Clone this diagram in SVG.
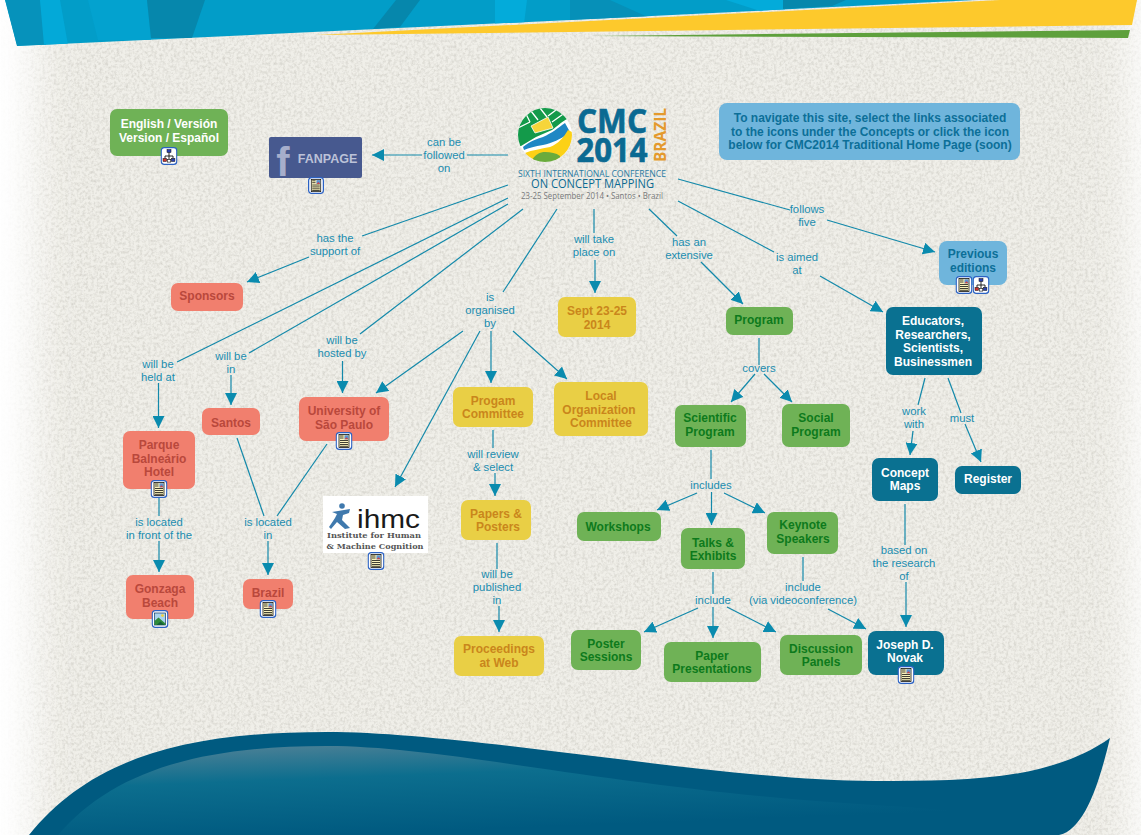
<svg xmlns="http://www.w3.org/2000/svg" xmlns:xlink="http://www.w3.org/1999/xlink" width="1141" height="835" viewBox="0 0 1141 835">
<style>
text{font-family:"Liberation Sans",Arial,sans-serif;text-anchor:middle}
.n{font-size:12px;font-weight:bold}
.r rect{fill:#f17f6e}.r text{fill:#b9483c}
.y rect{fill:#e9cf45}.y text{fill:#c9861c}
.g rect{fill:#6fb256}.g text{fill:#0d7a1c}
.b rect{fill:#0a7191}.b text{fill:#fff}
.s rect{fill:#6fb5dc}.s text{fill:#0c6f98}
.l{font-size:11.3px;fill:#1a8db0}
#connectors line{stroke:#1389aa;stroke-width:1.2}
.a{marker-end:url(#arrow)}
.o{font-family:"Open Sans","Liberation Sans",sans-serif}
</style>
<defs>
<marker id="arrow" markerUnits="userSpaceOnUse" viewBox="0 0 10 10" markerWidth="12" markerHeight="12" refX="10" refY="5" orient="auto"><path d="M0 0L10 5L0 10z" fill="#0a8bae"/></marker>
<filter id="paper" x="-5%" y="-5%" width="110%" height="110%" color-interpolation-filters="sRGB">
<feGaussianBlur in="SourceGraphic" stdDeviation="20" result="b"/>
<feTurbulence type="fractalNoise" baseFrequency="0.35" numOctaves="4" seed="4" result="t"/>
<feColorMatrix in="t" type="matrix" values="0 0 0 0 0.6 0 0 0 0 0.59 0 0 0 0 0.55 0.6 0 0 0 -0.24" result="c"/>
<feComposite in="c" in2="b" operator="in" result="s"/>
<feMerge><feMergeNode in="b"/><feMergeNode in="s"/></feMerge>
</filter>
<linearGradient id="wave" x1="0.12" y1="0" x2="0.5" y2="0.9"><stop offset="0" stop-color="#4f8196"/><stop offset="0.4" stop-color="#0c6e8e"/><stop offset="1" stop-color="#005a80"/></linearGradient>
<clipPath id="globe"><circle cx="545" cy="135" r="27"/></clipPath>
<clipPath id="ban"><path d="M5 0L17 46L570 20L975 0z"/></clipPath>
<symbol id="doc" viewBox="0 0 17 18"><rect x="0.7" y="0.7" width="15.6" height="16.6" rx="3" fill="#fff" stroke="#2b62c4" stroke-width="1.3"/><rect x="3.5" y="2.5" width="10" height="13" fill="#fbf3bd" stroke="#111" stroke-width="0.8"/><rect x="9" y="3.3" width="4" height="4" fill="#5b8fd0"/><path d="M9 7.3l2-2 2 2z" fill="#c44"/><path d="M4.5 4h3.5M4.5 6h3.5M4.5 8.500h8M4.5 10.500h8M4.5 12.500h8M4.5 14.300h8" stroke="#111" stroke-width="0.8"/></symbol>
<symbol id="map" viewBox="0 0 17 18"><rect x="0.7" y="0.7" width="15.6" height="16.6" rx="3" fill="#fff" stroke="#2b62c4" stroke-width="1.3"/><path d="M8.500 5V9M4.500 12V9H12.500V12M8.500 9V13" stroke="#111" stroke-width="0.9" fill="none"/><rect x="6.500" y="2.500" width="4" height="3" fill="#2a3fb0" stroke="#111" stroke-width="0.5"/><rect x="2.500" y="11.500" width="3.600" height="3" fill="#c33" stroke="#111" stroke-width="0.5"/><rect x="10.800" y="11.500" width="3.600" height="3" fill="#2a3fb0" stroke="#111" stroke-width="0.5"/><rect x="6.800" y="12.500" width="3.400" height="2.600" fill="#fff" stroke="#111" stroke-width="0.6"/></symbol>
<symbol id="pic" viewBox="0 0 17 18"><rect x="0.7" y="0.7" width="15.6" height="16.6" rx="3" fill="#fff" stroke="#2b62c4" stroke-width="1.3"/><rect x="3" y="3" width="11" height="12" fill="#a9d3ef" stroke="#14375e" stroke-width="0.7"/><circle cx="11" cy="5.600" r="1.400" fill="#f3d23c"/><path d="M3 15L3 11L7 7.500L11 11L14 13.500L14 15z" fill="#2f8a3a"/><path d="M5 15L9 11.500L13 15z" fill="#14603a"/></symbol>
</defs>

<rect width="1141" height="835" fill="#fff"/>
<rect x="34" y="-60" width="1098" height="955" fill="#f0efe9" filter="url(#paper)"/>

<g id="banner">
<path d="M5 0L17 46L570 20L975 0z" fill="#029dc8"/>
<g clip-path="url(#ban)">
<path d="M5 0H40L46 45L17 46z" fill="#0692bb"/>
<path d="M40 0H60L68 45L44 45z" fill="#03a9d8"/>
<path d="M88 0H147L151 40H98z" fill="#03a2cf"/>
<path d="M147 0H205L192 38L151 38z" fill="#0687ac"/>
<path d="M396 0H420L400 27L373 29z" fill="#0687ac"/>
<path d="M495 0H527L524 24H495z" fill="#03abda"/>
<path d="M570 0H610L650 18L570 20z" fill="#0690b8"/>
<path d="M726 0H785V11L760 11z" fill="#03abda"/>
<path d="M783 0H846L832 6L783 9z" fill="#0687ac"/>
</g>
<path d="M316 35L570 22L1000 0H1137L1132 25L570 32z" fill="#fdc92c"/>
<path d="M592 36L1130 30L1128 38z" fill="#5ea03c"/>
</g>

<g id="wave-shape">
<path d="M29 835C90 760 180 732 327 732C470 732 720 781 873 781C970 781 1050 780 1110 738C1100 780 1085 830 1059 835z" fill="#005a80"/>
<path d="M58 835C110 775 190 746 327 746C450 746 620 790 873 805C960 810 1020 815 1059 835z" fill="url(#wave)"/>
</g>

<g id="connectors">
<line x1="508" y1="155" x2="467" y2="155"/><line class="a" x1="422" y1="155" x2="372" y2="155"/>
<line x1="508" y1="185" x2="362" y2="236"/><line class="a" x1="309" y1="257" x2="247" y2="282"/>
<line x1="508" y1="198" x2="177" y2="362"/><line class="a" x1="158.500" y1="383" x2="158.500" y2="428"/>
<line x1="508" y1="204" x2="249" y2="353"/><line class="a" x1="231" y1="375" x2="231" y2="405"/>
<line x1="523" y1="209" x2="360" y2="334"/><line class="a" x1="342.500" y1="361" x2="342.500" y2="393"/>
<line x1="557" y1="209" x2="503" y2="292"/>
<line class="a" x1="463" y1="331" x2="376" y2="393"/>
<line class="a" x1="480" y1="331" x2="395" y2="487"/>
<line class="a" x1="491" y1="331" x2="491" y2="383"/>
<line class="a" x1="513" y1="331" x2="567" y2="379"/>
<line x1="594" y1="209" x2="594" y2="233"/><line class="a" x1="595" y1="260" x2="595" y2="293"/>
<line x1="649" y1="209" x2="677" y2="236"/><line class="a" x1="701" y1="262" x2="743" y2="304"/>
<line x1="678" y1="201" x2="774" y2="252"/><line class="a" x1="820" y1="276" x2="883" y2="312"/>
<line x1="678" y1="179" x2="790" y2="210"/><line class="a" x1="827" y1="220" x2="935" y2="252"/>
<line x1="237" y1="438" x2="264" y2="516"/><line x1="327" y1="444" x2="277" y2="516"/><line class="a" x1="268" y1="541" x2="268" y2="575"/>
<line x1="159" y1="497" x2="159" y2="516"/><line class="a" x1="159" y1="541" x2="159" y2="572"/>
<line x1="493" y1="430" x2="493" y2="448"/><line class="a" x1="495" y1="473" x2="495" y2="496"/>
<line x1="497" y1="543" x2="497" y2="569"/><line class="a" x1="499" y1="606" x2="499" y2="632"/>
<line x1="759" y1="338" x2="759" y2="365"/><line class="a" x1="755" y1="374" x2="731" y2="402"/><line class="a" x1="764" y1="374" x2="792" y2="402"/>
<line x1="711" y1="450" x2="711" y2="479"/><line class="a" x1="697" y1="493" x2="657" y2="510"/><line class="a" x1="711.500" y1="492" x2="711.500" y2="525"/><line class="a" x1="724" y1="493" x2="765" y2="513"/>
<line x1="713" y1="572" x2="713" y2="594"/><line class="a" x1="698" y1="608" x2="644" y2="632"/><line class="a" x1="713" y1="607" x2="713" y2="638"/><line class="a" x1="727" y1="607" x2="776" y2="632"/>
<line x1="803" y1="557" x2="803" y2="581"/><line class="a" x1="828" y1="609" x2="866" y2="629"/>
<line x1="925" y1="378" x2="918" y2="405"/><line class="a" x1="913" y1="431" x2="910" y2="455"/>
<line x1="948" y1="378" x2="961" y2="413"/><line class="a" x1="965" y1="424" x2="981" y2="462"/>
<line x1="905" y1="504" x2="905" y2="545"/><line class="a" x1="906" y1="582" x2="906" y2="627"/>
</g>

<g id="link-labels" class="l">
<text x="444" y="146">can be</text><text x="444" y="159">followed</text><text x="444" y="172">on</text>
<text x="335" y="242">has the</text><text x="335" y="255">support of</text>
<text x="158" y="368">will be</text><text x="158" y="381">held at</text>
<text x="231" y="360">will be</text><text x="231" y="373">in</text>
<text x="342" y="344">will be</text><text x="342" y="357">hosted by</text>
<text x="490" y="301">is</text><text x="490" y="314">organised</text><text x="490" y="327">by</text>
<text x="594" y="243">will take</text><text x="594" y="256">place on</text>
<text x="689" y="246">has an</text><text x="689" y="259">extensive</text>
<text x="797" y="261">is aimed</text><text x="797" y="274">at</text>
<text x="807" y="213">follows</text><text x="807" y="226">five</text>
<text x="159" y="526">is located</text><text x="159" y="539">in front of the</text>
<text x="268" y="526">is located</text><text x="268" y="539">in</text>
<text x="493" y="458">will review</text><text x="493" y="471">&amp; select</text>
<text x="497" y="578">will be</text><text x="497" y="591">published</text><text x="497" y="604">in</text>
<text x="759" y="372">covers</text>
<text x="711" y="489">includes</text>
<text x="713" y="604">include</text>
<text x="803" y="591">include</text><text x="803" y="604">(via videoconference)</text>
<text x="914" y="415">work</text><text x="914" y="428">with</text>
<text x="962" y="422">must</text>
<text x="904" y="554">based on</text><text x="904" y="567">the research</text><text x="904" y="580">of</text>
</g>

<g id="logo">
<g clip-path="url(#globe)">
<rect x="515" y="105" width="60" height="60" fill="#fff"/>
<path d="M515 146L515 105H575V116C565 118 558 126 552 130L536 137L521 146z" fill="#139a4a"/>
<path d="M518 128L530 122M530 122L525 112M531 111L538 120M540 108L547 117M548 116L556 110M552 122L566 112" stroke="#fff" stroke-width="1.300" fill="none"/>
<path d="M531 126L548 117L553 128L535 133z" fill="#f6d53a" stroke="#fff" stroke-width="0.8"/>
<path d="M523 147C530 141 537 139 543 137C552 133 558 128 565 123L570 132C560 140 552 143 543 145C535 146 529 148 524 150z" fill="#1f87c4"/>
<path d="M525 153C532 150 541 149 550 147C558 144 564 137 568 130L574 133L566 160H530z" fill="#fcd116"/>
<path d="M530 163C535 154 540 152 545 152C551 152 556 153 560 156V166H530z" fill="#6aab3c"/>
</g>
<text class="o" x="612" y="133" font-size="34" font-weight="bold" fill="#0b6a92" stroke="#0b6a92" stroke-width="0.7" textLength="70" lengthAdjust="spacingAndGlyphs">CMC</text>
<text class="o" x="612" y="162" font-size="34" font-weight="bold" fill="#0b6a92" stroke="#0b6a92" stroke-width="0.7" textLength="71" lengthAdjust="spacingAndGlyphs">2014</text>
<text class="o" transform="translate(666,135) rotate(-90)" font-size="16.500" font-weight="bold" fill="#e49a2d" textLength="54" lengthAdjust="spacingAndGlyphs">BRAZIL</text>
<text class="o" x="592" y="177" font-size="9.500" fill="#2b7ca3" textLength="148" lengthAdjust="spacingAndGlyphs">SIXTH INTERNATIONAL CONFERENCE</text>
<text class="o" x="592.500" y="188" font-size="12" fill="#0b6a92" textLength="123" lengthAdjust="spacingAndGlyphs">ON CONCEPT MAPPING</text>
<text class="o" x="592" y="198.500" font-size="8.500" fill="#77797a" textLength="142" lengthAdjust="spacingAndGlyphs">23-25 September 2014 • Santos • Brazil</text>
</g>

<g id="nav-note" class="s n"><rect x="719" y="103" width="301" height="57" rx="8"/><text x="870" y="122">To navigate this site, select the links associated</text><text x="870" y="135.500">to the icons under the Concepts or click the icon</text><text x="870" y="149">below for CMC2014 Traditional Home Page (soon)</text></g>

<g id="english" class="n"><rect x="110" y="109" width="118" height="47" rx="7" fill="#6fb256"/><text x="169" y="128" fill="#fff">English / Versión</text><text x="169" y="141.500" fill="#fff">Version / Español</text><use href="#map" x="160.500" y="147" width="17" height="18"/></g>
<g id="fanpage"><rect x="269" y="137" width="93" height="41" rx="2" fill="#47598f"/><text x="283" y="176" font-size="40" font-weight="bold" fill="#a6aecb">f</text><text x="327.500" y="162.500" font-size="12.500" font-weight="bold" fill="#bcc2d8">FANPAGE</text><use href="#doc" x="307.500" y="177" width="17" height="17"/></g>

<g id="sponsors" class="r n"><rect x="171" y="283" width="72" height="28" rx="7"/><text x="207" y="300">Sponsors</text></g>
<g id="santos" class="r n"><rect x="202" y="408" width="58" height="27" rx="7"/><text x="231" y="427">Santos</text></g>
<g id="parque" class="r n"><rect x="123" y="431" width="72" height="58" rx="7"/><text x="159" y="449">Parque</text><text x="159" y="463">Balneário</text><text x="159" y="476">Hotel</text><use href="#doc" x="150.500" y="480" width="17" height="18"/></g>
<g id="gonzaga" class="r n"><rect x="126" y="575" width="68" height="44" rx="7"/><text x="160" y="593">Gonzaga</text><text x="160" y="607">Beach</text><use href="#pic" x="151.500" y="610" width="17" height="18"/></g>
<g id="brazil" class="r n"><rect x="243" y="579" width="50" height="30" rx="7"/><text x="268" y="597">Brazil</text><use href="#doc" x="259.500" y="600" width="17" height="18"/></g>
<g id="usp" class="r n"><rect x="299" y="397" width="90" height="44" rx="7"/><text x="344" y="415">University of</text><text x="344" y="429">São Paulo</text><use href="#doc" x="335.500" y="432" width="17" height="18"/></g>

<g id="ihmc"><rect x="323" y="496" width="105" height="57" fill="#fff"/>
<circle cx="342" cy="506" r="2.800" fill="#3f79ad"/><path d="M332 512L350 509L349 513L343 515L342 520L350 528L345 529L337 522L331 529L329 527L335 518L337 514z" fill="#3f79ad"/>
<text x="388.500" y="528" font-size="25" fill="#1a1a1a" textLength="63" lengthAdjust="spacingAndGlyphs">ihmc</text>
<text x="374" y="537.500" font-size="8" font-weight="bold" fill="#555" textLength="94" lengthAdjust="spacingAndGlyphs" style="font-family:'DejaVu Serif',serif">Institute for Human</text>
<text x="375" y="548.500" font-size="8" font-weight="bold" fill="#555" textLength="97" lengthAdjust="spacingAndGlyphs" style="font-family:'DejaVu Serif',serif">&amp; Machine Cognition</text>
<use href="#doc" x="367.500" y="552" width="17" height="18"/></g>

<g id="sept" class="y n"><rect x="558" y="297" width="78" height="40" rx="7"/><text x="597" y="315">Sept 23-25</text><text x="597" y="329">2014</text></g>
<g id="progam" class="y n"><rect x="453" y="387" width="80" height="40" rx="7"/><text x="493" y="405">Progam</text><text x="493" y="418">Committee</text></g>
<g id="local" class="y n"><rect x="554" y="382" width="94" height="54" rx="7"/><text x="601" y="400">Local</text><text x="599" y="413.500">Organization</text><text x="601" y="427">Committee</text></g>
<g id="papers" class="y n"><rect x="461" y="500" width="70" height="40" rx="7"/><text x="496" y="518">Papers &amp;</text><text x="498" y="531">Posters</text></g>
<g id="proceedings" class="y n"><rect x="454" y="636" width="90" height="40" rx="7"/><text x="499" y="653">Proceedings</text><text x="499" y="667">at Web</text></g>

<g id="program" class="g n"><rect x="726" y="307" width="67" height="28" rx="7"/><text x="759" y="324">Program</text></g>
<g id="scientific" class="g n"><rect x="675" y="405" width="71" height="42" rx="7"/><text x="710" y="422">Scientific</text><text x="710" y="436">Program</text></g>
<g id="social" class="g n"><rect x="782" y="404" width="68" height="43" rx="7"/><text x="816" y="422">Social</text><text x="816" y="436">Program</text></g>
<g id="workshops" class="g n"><rect x="577" y="512" width="84" height="29" rx="7"/><text x="618" y="531">Workshops</text></g>
<g id="talks" class="g n"><rect x="681" y="528" width="64" height="41" rx="7"/><text x="713" y="547">Talks &amp;</text><text x="713" y="560">Exhibits</text></g>
<g id="keynote" class="g n"><rect x="767" y="512" width="71" height="42" rx="7"/><text x="803" y="529">Keynote</text><text x="803" y="543">Speakers</text></g>
<g id="poster" class="g n"><rect x="571" y="630" width="70" height="40" rx="7"/><text x="606" y="648">Poster</text><text x="606" y="661">Sessions</text></g>
<g id="paper" class="g n"><rect x="664" y="642" width="97" height="40" rx="7"/><text x="712" y="660">Paper</text><text x="712" y="673">Presentations</text></g>
<g id="discussion" class="g n"><rect x="780" y="635" width="82" height="40" rx="7"/><text x="821" y="653">Discussion</text><text x="821" y="666">Panels</text></g>

<g id="novak" class="b n"><rect x="868" y="631" width="76" height="44" rx="8"/><text x="905" y="649">Joseph D.</text><text x="905" y="662">Novak</text><use href="#doc" x="897.500" y="666" width="17" height="18"/></g>
<g id="concept" class="b n"><rect x="872" y="458" width="66" height="43" rx="7"/><text x="905" y="477">Concept</text><text x="905" y="490">Maps</text></g>
<g id="register" class="b n"><rect x="955" y="466" width="66" height="28" rx="7"/><text x="988" y="483">Register</text></g>
<g id="educators" class="b n"><rect x="886" y="307" width="96" height="68" rx="7"/><text x="933" y="325">Educators,</text><text x="933" y="338.500">Researchers,</text><text x="933" y="352">Scientists,</text><text x="933" y="366">Businessmen</text></g>
<g id="previous" class="s n"><rect x="939" y="241" width="68" height="44" rx="8"/><text x="973" y="258">Previous</text><text x="973" y="272">editions</text><use href="#doc" x="955.500" y="276" width="17" height="18"/><use href="#map" x="972.500" y="276" width="17" height="18"/></g>
</svg>
